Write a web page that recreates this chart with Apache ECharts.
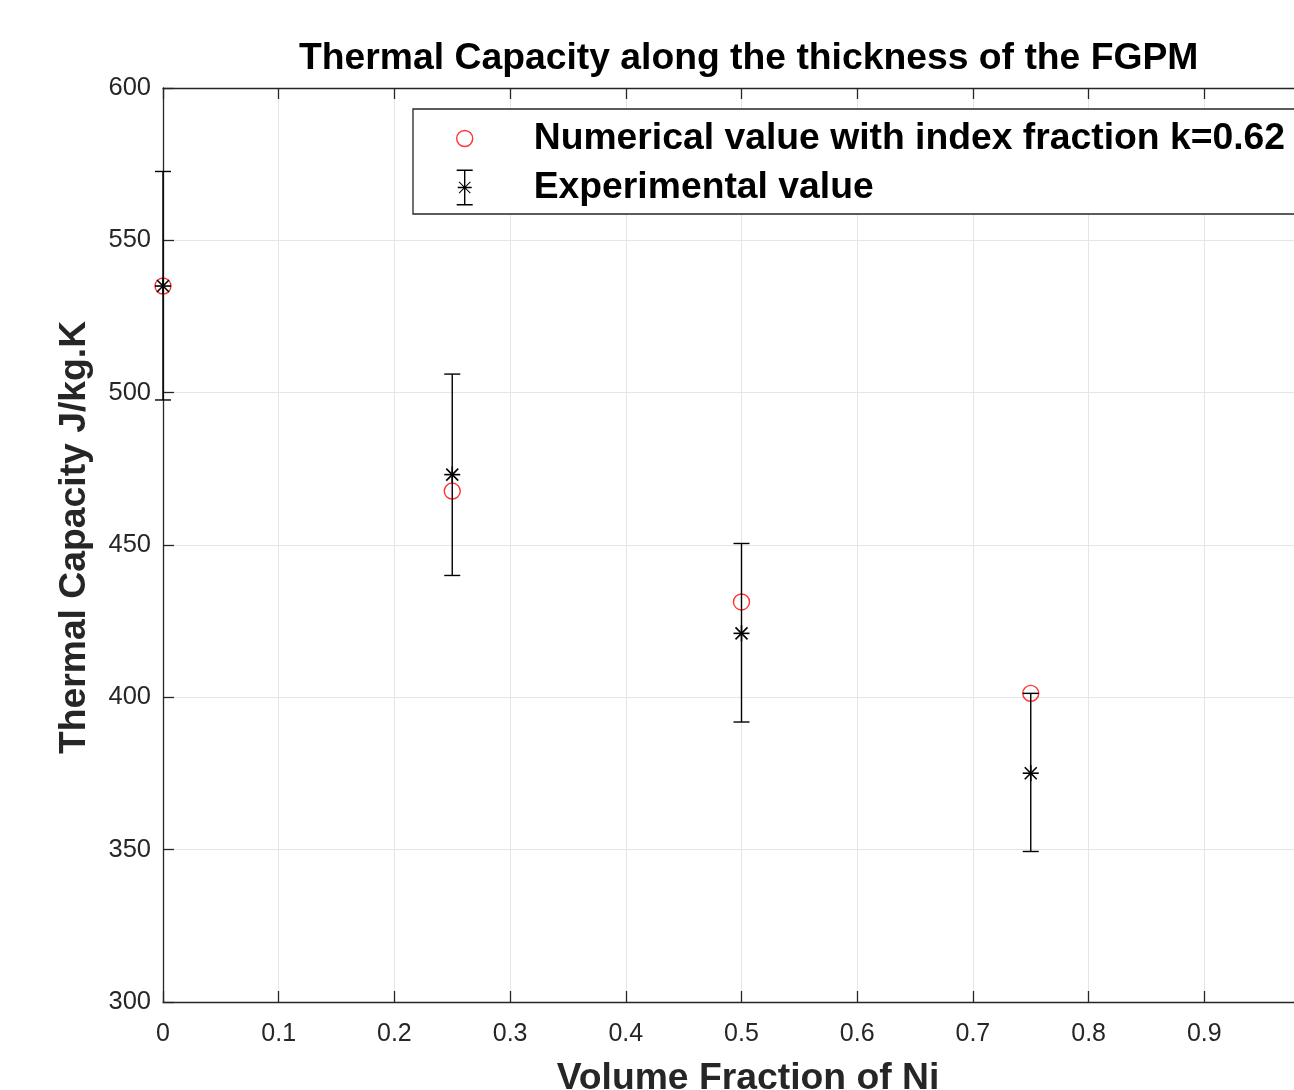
<!DOCTYPE html>
<html>
<head>
<meta charset="utf-8">
<script src="https://cdn.jsdelivr.net/npm/echarts@6/dist/echarts.min.js"></script>
<style>
html,body{margin:0;padding:0;background:#fff;}
#chart{width:1294px;height:1090px;}
</style>
</head>
<body>
<div id="chart"></div>
<script>
// ---- data ----
const xValues = [0, 0.25, 0.5, 0.75];
const numericalValues = [535, 467.7, 431.3, 401.3];
const experimentalValues = [535, 473.1, 421.0, 375.1];
const experimentalLower = [497.6, 440.0, 391.9, 349.4];
const experimentalUpper = [572.6, 506.1, 450.5, 401.3];
const xTickValues = [0, 0.1, 0.2, 0.3, 0.4, 0.5, 0.6, 0.7, 0.8, 0.9, 1];
const yTickValues = [300, 350, 400, 450, 500, 550, 600];

const numericalName = 'Numerical value with index fraction k=0.62';
const experimentalName = 'Experimental value';
const titleText = 'Thermal Capacity along the thickness of the FGPM';
const xName = 'Volume Fraction of Ni';
const yName = 'Thermal Capacity J/kg.K';

const FONT = 'Liberation Sans, Arial, Helvetica, sans-serif';
const AXIS_COLOR = '#262626';
const GRID_COLOR = '#e5e5e5';

const numericalData = xValues.map((x, i) => [x, numericalValues[i]]);
const experimentalData = xValues.map((x, i) => [x, experimentalValues[i], experimentalLower[i], experimentalUpper[i]]);

const errIcon = 'path://M0 0H16V1.4H0Z M0 34.6H16V36H0Z M7.3 1H8.7V35H7.3Z M1 17.3H15V18.7H1Z ' +
  'M2 12.7L2.7 12L14 23.3L13.3 24Z M13.3 12L14 12.7L2.7 24L2 23.3Z';

const chart = echarts.init(document.getElementById('chart'), null, {renderer: 'canvas'});

const axisCommon = {
  type: 'value',
  axisLine: {show: true, onZero: false, lineStyle: {color: AXIS_COLOR, width: 1.3}},
  axisTick: {show: true, inside: true, length: 11, lineStyle: {color: AXIS_COLOR, width: 1.3}},
};

chart.setOption({
  animation: false,
  backgroundColor: '#fff',
  title: {
    text: titleText,
    left: 299,
    top: 40,
    padding: 0,
    textStyle: {fontFamily: FONT, fontSize: 37.3, fontWeight: 'bold', color: '#000'}
  },
  grid: {left: 163, top: 88, right: -26, bottom: 88, containLabel: false, outerBoundsMode: 'none'},
  legend: {
    orient: 'vertical',
    left: 413,
    top: 109,
    itemWidth: 16,
    itemHeight: 36,
    itemGap: 12,
    padding: [11, 80, 8, 43],
    borderColor: AXIS_COLOR,
    borderWidth: 1.3,
    backgroundColor: '#fff',
    selectedMode: false,
    textStyle: {fontFamily: FONT, fontSize: 37.3, fontWeight: 'bold', color: '#000', padding: [0, 0, 0, 56]},
    data: [
      {name: numericalName, icon: 'circle', itemStyle: {color: 'rgba(255,255,255,0)', borderColor: '#ff0000', borderWidth: 1.4}},
      {name: experimentalName, icon: errIcon, itemStyle: {color: '#000', borderWidth: 0}}
    ]
  },
  xAxis: [
    Object.assign({}, axisCommon, {
      position: 'bottom',
      min: 0, max: 1, interval: 0.1,
      axisLabel: {fontFamily: FONT, fontSize: 25, color: AXIS_COLOR, margin: 20,
        formatter: v => String(xTickValues.find(t => Math.abs(t - v) < 1e-9) ?? v)},
      splitLine: {show: true, lineStyle: {color: GRID_COLOR, width: 1}},
      name: xName,
      nameLocation: 'middle',
      nameGap: 58,
      nameTextStyle: {fontFamily: FONT, fontSize: 37.3, fontWeight: 'bold', color: AXIS_COLOR, padding: [0, 0, 0, 13]}
    }),
    Object.assign({}, axisCommon, {
      position: 'top',
      min: 0, max: 1, interval: 0.1,
      axisLabel: {show: false},
      splitLine: {show: false}
    })
  ],
  yAxis: [
    Object.assign({}, axisCommon, {
      position: 'left',
      min: yTickValues[0], max: yTickValues[yTickValues.length - 1], interval: 50,
      axisLabel: {fontFamily: FONT, fontSize: 25.5, color: AXIS_COLOR, margin: 12},
      splitLine: {show: true, lineStyle: {color: GRID_COLOR, width: 1}},
      name: yName,
      nameLocation: 'middle',
      nameGap: 70,
      nameTextStyle: {fontFamily: FONT, fontSize: 37.3, fontWeight: 'bold', color: AXIS_COLOR, padding: [0, 0, 0, 15]}
    })
  ],
  series: [
    {
      name: numericalName,
      type: 'scatter',
      xAxisIndex: 0,
      yAxisIndex: 0,
      clip: false,
      symbol: 'circle',
      symbolSize: 16,
      itemStyle: {color: 'rgba(255,255,255,0)', borderColor: '#ff0000', borderWidth: 1.4},
      data: numericalData,
      z: 3
    },
    {
      name: experimentalName,
      type: 'custom',
      xAxisIndex: 0,
      yAxisIndex: 0,
      clip: false,
      itemStyle: {color: '#000'},
      encode: {x: 0, y: [1, 2, 3]},
      data: experimentalData,
      z: 4,
      renderItem: function (params, api) {
        const x = api.value(0);
        const pc = api.coord([x, api.value(1)]);
        const pl = api.coord([x, api.value(2)]);
        const ph = api.coord([x, api.value(3)]);
        const cap = 8, s = 8, d = 6;
        const st = {stroke: '#000', lineWidth: 1.4};
        const st2 = {stroke: '#000', lineWidth: 1.6};
        const L = (x1, y1, x2, y2, style) => ({type: 'line', shape: {x1, y1, x2, y2}, style: style || st});
        return {
          type: 'group',
          children: [
            L(pl[0], pl[1], ph[0], ph[1]),
            L(ph[0] - cap, ph[1], ph[0] + cap, ph[1]),
            L(pl[0] - cap, pl[1], pl[0] + cap, pl[1]),
            L(pc[0] - s, pc[1], pc[0] + s, pc[1], st2),
            L(pc[0], pc[1] - s, pc[0], pc[1] + s, st2),
            L(pc[0] - d, pc[1] - d, pc[0] + d, pc[1] + d, st2),
            L(pc[0] - d, pc[1] + d, pc[0] + d, pc[1] - d, st2)
          ]
        };
      }
    }
  ]
});
</script>
</body>
</html>
